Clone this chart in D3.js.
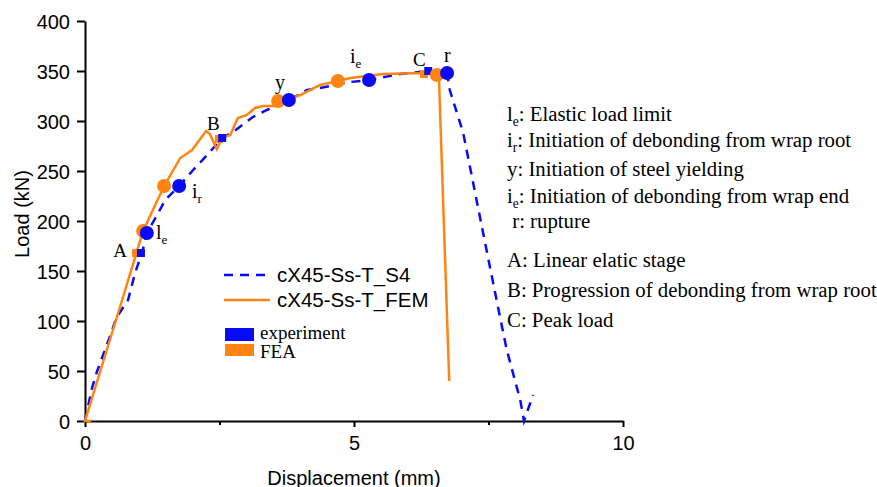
<!DOCTYPE html>
<html>
<head>
<meta charset="utf-8">
<script src="https://cdn.jsdelivr.net/npm/d3@7"></script>
<style>
  body { margin: 0; background: #fff; }
  .tick text { font-family: "Liberation Sans", Arial, sans-serif; font-size: 20px; fill: #000; }
  .serif { font-family: "Liberation Serif", "Times New Roman", serif; fill: #000; }
</style>
</head>
<body>
<script>
// Experimental curve cX45-Ss-T_S4 (displacement mm, load kN)
let expDisp = [0, 0.13, 0.22, 0.46, 0.59, 0.80, 0.93, 1.06, 1.15, 1.34, 1.49, 1.75, 2.01, 2.27, 2.55, 2.75, 3.12, 3.38, 3.62, 3.79, 4.13, 4.37, 4.93, 5.28, 5.86, 6.38, 6.73, 6.78, 7.03, 7.40, 7.68, 7.84, 8.09, 8.16, 8.23, 8.33];
let expLoad = [0, 33, 49, 84, 104, 121, 148, 168, 188, 206, 221, 235, 251, 266, 283, 289, 304, 311, 316, 321, 331, 333, 339, 341, 347, 350, 348, 331, 288, 188, 113, 71, 21, 0, 11, 26];

// FEM curve cX45-Ss-T_FEM
let femDisp = [0.11, 0, 0.69, 1.08, 1.47, 1.77, 1.99, 2.25, 2.32, 2.45, 2.55, 2.70, 2.84, 3.01, 3.16, 3.31, 3.57, 3.62, 4.00, 4.37, 4.70, 4.93, 5.54, 6.28, 6.54, 6.58, 6.77];
let femLoad = [0, 0, 121, 190, 235, 263, 271, 290, 287, 272, 283, 286, 303, 306, 313, 315, 315, 319, 326, 336, 340, 343, 347, 348, 346, 341, 40];

// key points (le, ir, y, ie, r)
let pointNames = ["l|e", "i|r", "y", "i|e", "r"];
let expPtDisp = [1.15, 1.75, 3.79, 5.28, 6.73];
let expPtLoad = [188, 235, 321, 341, 348];
let femPtDisp = [1.08, 1.47, 3.59, 4.70, 6.54];
let femPtLoad = [190, 235, 320, 340, 346];

// stages (A, B, C)
let stageNames = ["A", "B", "C"];
let expStDisp = [1.04, 2.55, 6.38];
let expStLoad = [168, 283, 350];
let femStDisp = [0.95, 2.49, 6.30];
let femStLoad = [168, 282, 347];

let xTicks = [0, 5, 10];
let xMinor = [2.5, 7.5];
let yTicks = [0, 50, 100, 150, 200, 250, 300, 350, 400];

let notes = [["l|e", ": Elastic load limit"], ["i|r", ": Initiation of debonding from wrap root"],
  ["y", ": Initiation of steel yielding"], ["i|e", ": Initiation of debonding from wrap end"],
  [" r", ": rupture"], ["A", ": Linear elatic stage"], ["B", ": Progression of debonding from wrap root"],
  ["C", ": Peak load"]];

let blue = "#0a0af5", orange = "#ff8412";

let svg = d3.select("body").append("svg").attr("width", 877).attr("height", 487);

let x = d3.scaleLinear().domain([0, 10]).range([85, 623]);
let y = d3.scaleLinear().domain([0, 400]).range([421, 21]);

// axes
let gx = svg.append("g").attr("transform", "translate(0,421)")
  .call(d3.axisBottom(x).tickValues(xTicks).tickSize(6).tickSizeOuter(0).tickPadding(9));
svg.append("g").attr("transform", "translate(0,421)")
  .call(d3.axisBottom(x).tickValues(xMinor).tickSize(4).tickSizeOuter(0).tickFormat(""))
  .select(".domain").remove();
let gy = svg.append("g").attr("transform", "translate(85,0)")
  .call(d3.axisLeft(y).tickValues(yTicks).tickSize(8).tickSizeOuter(0).tickPadding(7));
svg.selectAll(".domain, .tick line").attr("stroke", "#000").attr("stroke-width", 2);
gy.selectAll(".tick text").attr("dy", "0.36em");

svg.append("text").attr("transform", "translate(29,214) rotate(-90)")
  .attr("text-anchor", "middle").style("font-family", "Liberation Sans, Arial").style("font-size", "20px")
  .text("Load (kN)");
svg.append("text").attr("x", 354).attr("y", 485)
  .attr("text-anchor", "middle").style("font-family", "Liberation Sans, Arial").style("font-size", "20px")
  .text("Displacement (mm)");

// curves
let line = d3.line().x(d => x(d[0])).y(d => y(d[1]));
svg.append("path").datum(d3.zip(expDisp, expLoad)).attr("d", line)
  .attr("fill", "none").attr("stroke", blue).attr("stroke-width", 2.5).attr("stroke-dasharray", "9,7");
svg.append("path").datum(d3.zip(femDisp, femLoad)).attr("d", line)
  .attr("fill", "none").attr("stroke", orange).attr("stroke-width", 2.5);

// markers
function squares(ds, ls, col, s) {
  svg.append("g").selectAll("rect").data(d3.zip(ds, ls)).join("rect")
    .attr("x", d => x(d[0]) - s / 2).attr("y", d => y(d[1]) - s / 2)
    .attr("width", s).attr("height", s).attr("fill", col);
}
function dots(ds, ls, col) {
  svg.append("g").selectAll("circle").data(d3.zip(ds, ls)).join("circle")
    .attr("cx", d => x(d[0])).attr("cy", d => y(d[1])).attr("r", 7).attr("fill", col);
}
squares(femStDisp, femStLoad, orange, 8);
squares(expStDisp, expStLoad, blue, 8);
dots(femPtDisp, femPtLoad, orange);
dots(expPtDisp, expPtLoad, blue);

// label with optional subscript "main|sub"
function label(g, str, size) {
  let p = str.split("|");
  g.append("tspan").text(p[0]);
  if (p[1]) g.append("tspan").attr("dy", 5).style("font-size", (size * 0.65) + "px").text(p[1]);
}

let ptLabelPos = [[156, 239], [192, 198], [275, 89], [350, 63], [444, 62]];
pointNames.forEach((n, i) => {
  let t = svg.append("text").attr("class", "serif").attr("x", ptLabelPos[i][0]).attr("y", ptLabelPos[i][1])
    .style("font-size", "20px");
  label(t, n, 20);
});
let stLabelPos = [[127, 257, "end"], [207, 130, "start"], [413, 66, "start"]];
stageNames.forEach((n, i) => {
  svg.append("text").attr("class", "serif").attr("x", stLabelPos[i][0]).attr("y", stLabelPos[i][1])
    .attr("text-anchor", stLabelPos[i][2]).style("font-size", "19px").text(n);
});

// notes on the right
let noteY = [121, 147, 176, 203, 228, 267, 297, 327];
notes.forEach((n, i) => {
  let t = svg.append("text").attr("class", "serif").attr("x", 507).attr("y", noteY[i])
    .style("font-size", "20.8px").attr("xml:space", "preserve").style("white-space", "pre");
  label(t, n[0], 20.8);
  t.append("tspan").attr("dy", n[0].includes("|") ? -5 : 0).text(n[1]);
});

// legend
let leg = svg.append("g");
leg.append("line").attr("x1", 224).attr("x2", 268).attr("y1", 275).attr("y2", 275)
  .attr("stroke", blue).attr("stroke-width", 2.5).attr("stroke-dasharray", "9,7");
leg.append("line").attr("x1", 224).attr("x2", 270).attr("y1", 300).attr("y2", 300)
  .attr("stroke", orange).attr("stroke-width", 2.5);
leg.append("text").attr("x", 277).attr("y", 282).style("font-family", "Liberation Sans, Arial")
  .style("font-size", "20.5px").text("cX45-Ss-T_S4");
leg.append("text").attr("x", 277).attr("y", 307).style("font-family", "Liberation Sans, Arial")
  .style("font-size", "20.5px").text("cX45-Ss-T_FEM");
leg.append("rect").attr("x", 225).attr("y", 328).attr("width", 29).attr("height", 13).attr("fill", blue);
leg.append("rect").attr("x", 225).attr("y", 344).attr("width", 29).attr("height", 12).attr("fill", orange);
leg.append("text").attr("class", "serif").attr("x", 260).attr("y", 339).style("font-size", "19px").text("experiment");
leg.append("text").attr("class", "serif").attr("x", 260).attr("y", 358).style("font-size", "19px").text("FEA");
</script>
</body>
</html>
